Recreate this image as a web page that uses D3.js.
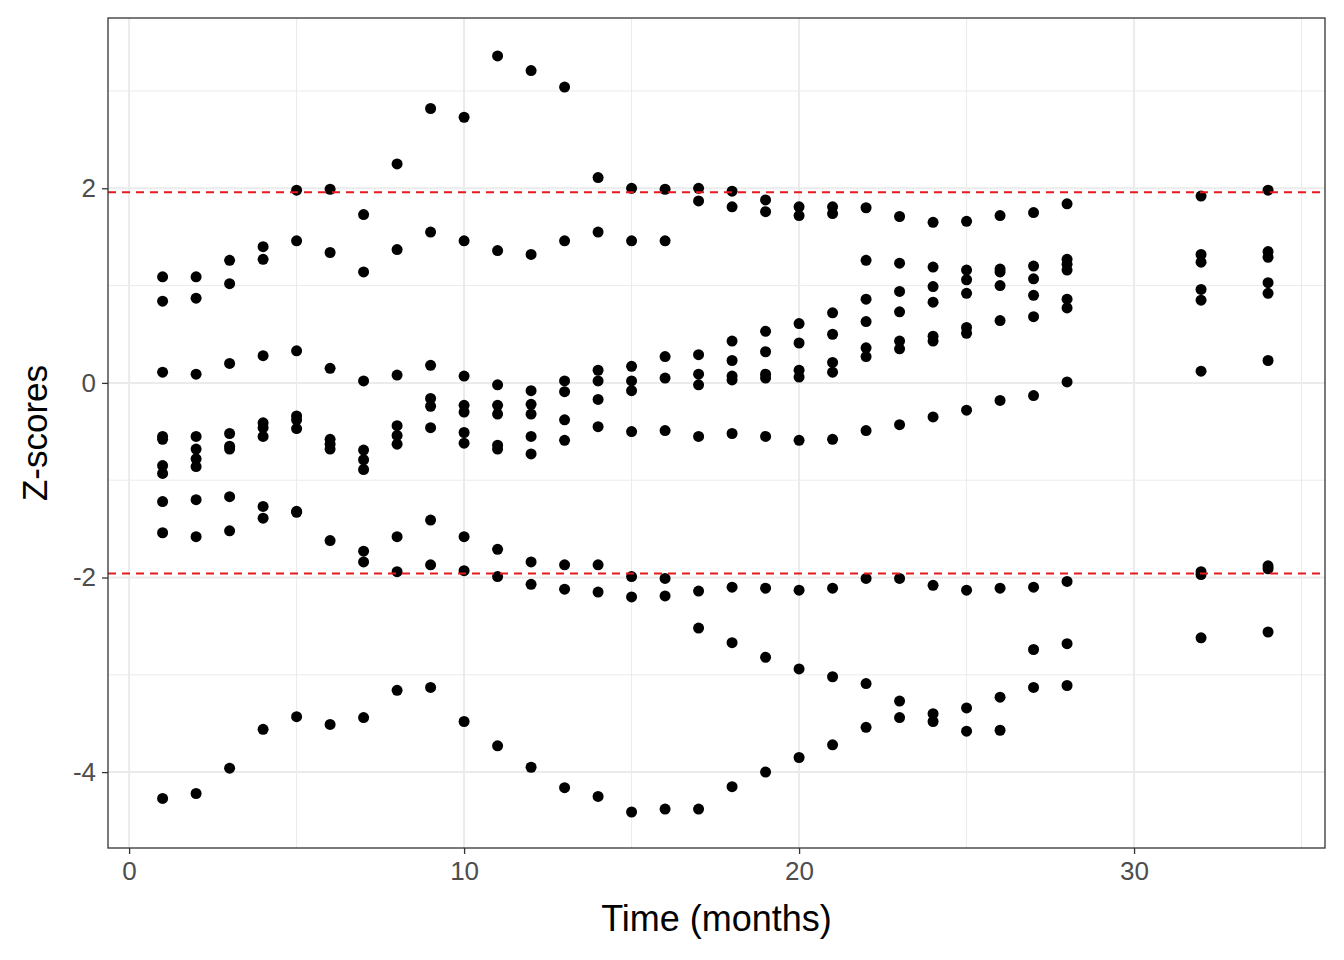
<!DOCTYPE html><html><head><meta charset="utf-8">
<script src="https://cdn.jsdelivr.net/npm/d3@7"></script>
<style>body{margin:0;background:#fff}</style></head><body><svg id="c" width="1344" height="960"></svg>
<script>
const months=[1,2,3,4,5,6,7,8,9,10,11,12,13,14,15,16,17,18,19,20,21,22,23,24,25,26,27,28,32,34];
const zscores=[
[1.09,0.84,0.11,-0.55,-0.58,-0.85,-0.93,-1.22,-1.54,-4.27],
[1.09,0.87,0.09,-0.55,-0.68,-0.78,-0.86,-1.20,-1.58,-4.22],
[1.26,1.02,0.20,-0.52,-0.65,-0.68,-1.17,-1.52,-3.96],
[1.40,1.27,0.28,-0.41,-0.46,-0.55,-1.27,-1.39,-3.56],
[1.98,1.46,0.33,-0.34,-0.38,-0.47,-1.32,-1.33,-3.43],
[1.99,1.34,0.15,-0.58,-0.63,-0.68,-1.62,-3.51],
[1.73,1.14,0.02,-0.69,-0.79,-0.89,-1.73,-1.84,-3.44],
[2.25,1.37,0.08,-0.44,-0.54,-0.63,-1.58,-1.94,-3.16],
[2.82,1.55,0.18,-0.16,-0.24,-0.46,-1.41,-1.87,-3.13],
[2.73,1.46,0.07,-0.23,-0.30,-0.51,-0.62,-1.58,-1.93,-3.48],
[3.36,1.36,-0.02,-0.23,-0.32,-0.64,-0.68,-1.71,-1.99,-3.73],
[3.21,1.32,-0.08,-0.22,-0.32,-0.55,-0.73,-1.84,-2.07,-3.95],
[3.04,1.46,0.02,-0.09,-0.38,-0.59,-1.87,-2.12,-4.16],
[2.11,1.55,0.13,0.02,-0.17,-0.45,-1.87,-2.15,-4.25],
[2.0,1.46,0.17,0.02,-0.08,-0.50,-1.99,-2.20,-4.41],
[1.99,1.46,0.27,0.05,-0.49,-2.01,-2.19,-4.38],
[2.0,1.87,0.29,0.09,-0.02,-0.55,-2.14,-2.52,-4.38],
[1.97,1.81,0.43,0.23,0.07,0.03,-0.52,-2.10,-2.67,-4.15],
[1.88,1.76,0.53,0.32,0.09,0.05,-0.55,-2.11,-2.82,-4.0],
[1.81,1.72,0.61,0.41,0.13,0.06,-0.59,-2.13,-2.94,-3.85],
[1.81,1.74,0.72,0.50,0.21,0.11,-0.58,-2.11,-3.02,-3.72],
[1.80,1.26,0.86,0.63,0.36,0.27,-0.49,-2.01,-3.09,-3.54],
[1.71,1.23,0.94,0.73,0.43,0.35,-0.43,-2.01,-3.27,-3.44],
[1.65,1.19,0.99,0.83,0.48,0.43,-0.35,-2.08,-3.40,-3.48],
[1.66,1.16,1.06,0.92,0.57,0.51,-0.28,-2.13,-3.34,-3.58],
[1.72,1.17,1.14,1.00,0.64,-0.18,-2.11,-3.23,-3.57],
[1.75,1.20,1.07,0.90,0.68,-0.13,-2.10,-2.74,-3.13],
[1.84,1.27,1.22,1.16,0.86,0.77,0.01,-2.04,-2.68,-3.11],
[1.92,1.32,1.24,0.96,0.85,0.12,-1.94,-1.97,-2.62],
[1.98,1.35,1.29,1.03,0.92,0.23,-1.88,-1.91,-2.56]];
const xTicks=[0,10,20,30], yTicks=[-4,-2,0,2], refLines=[-1.96,1.96];
const pts=[];months.forEach((m,i)=>zscores[i].forEach(z=>pts.push([m,z])));
const L=108,R=1325,T=18,B=848;
const x=d3.scaleLinear().domain([-0.63,35.7]).range([L,R]);
const y=d3.scaleLinear().domain([-4.78,3.75]).range([B,T]);
const svg=d3.select("#c");
const g=svg.append("g");
const minorX=[5,15,25,35], minorY=[-3,-1,1,3];
minorX.forEach(v=>g.append("line").attr("x1",x(v)).attr("x2",x(v)).attr("y1",T).attr("y2",B).attr("stroke","#ebebeb").attr("stroke-width",1));
minorY.forEach(v=>g.append("line").attr("y1",y(v)).attr("y2",y(v)).attr("x1",L).attr("x2",R).attr("stroke","#ebebeb").attr("stroke-width",1));
xTicks.forEach(v=>g.append("line").attr("x1",x(v)).attr("x2",x(v)).attr("y1",T).attr("y2",B).attr("stroke","#ebebeb").attr("stroke-width",2));
yTicks.forEach(v=>g.append("line").attr("y1",y(v)).attr("y2",y(v)).attr("x1",L).attr("x2",R).attr("stroke","#ebebeb").attr("stroke-width",2));
svg.append("g").selectAll("circle").data(pts).join("circle").attr("cx",d=>x(d[0])).attr("cy",d=>y(d[1])).attr("r",5.5).attr("fill","#000");
refLines.forEach(v=>svg.append("line").attr("x1",L).attr("x2",R).attr("y1",y(v)).attr("y2",y(v)).attr("stroke","#e41a1c").attr("stroke-width",2).attr("stroke-dasharray","8,6"));
svg.append("rect").attr("x",L).attr("y",T).attr("width",R-L).attr("height",B-T).attr("fill","none").attr("stroke","#333").attr("stroke-width",1.3);
const fmt=v=>String(v);
const ax=svg.append("g").attr("transform",`translate(0,${B})`).call(d3.axisBottom(x).tickValues(xTicks).tickFormat(fmt).tickSize(6).tickPadding(8));
const ay=svg.append("g").attr("transform",`translate(${L},0)`).call(d3.axisLeft(y).tickValues(yTicks).tickFormat(fmt).tickSize(6).tickPadding(6));
[ax,ay].forEach(a=>{a.select(".domain").remove();a.selectAll("line").attr("stroke","#333").attr("stroke-width",1.3);a.selectAll("text").attr("fill","#4d4d4d").style("font-family","Liberation Sans, Arial, sans-serif").style("font-size","26px");});
svg.append("text").attr("x",(L+R)/2).attr("y",931).attr("text-anchor","middle").style("font-family","Liberation Sans, Arial, sans-serif").style("font-size","36px").text("Time (months)");
svg.append("text").attr("transform",`translate(47,${(T+B)/2}) rotate(-90)`).attr("text-anchor","middle").style("font-family","Liberation Sans, Arial, sans-serif").style("font-size","35px").text("Z-scores");
</script></body></html>
